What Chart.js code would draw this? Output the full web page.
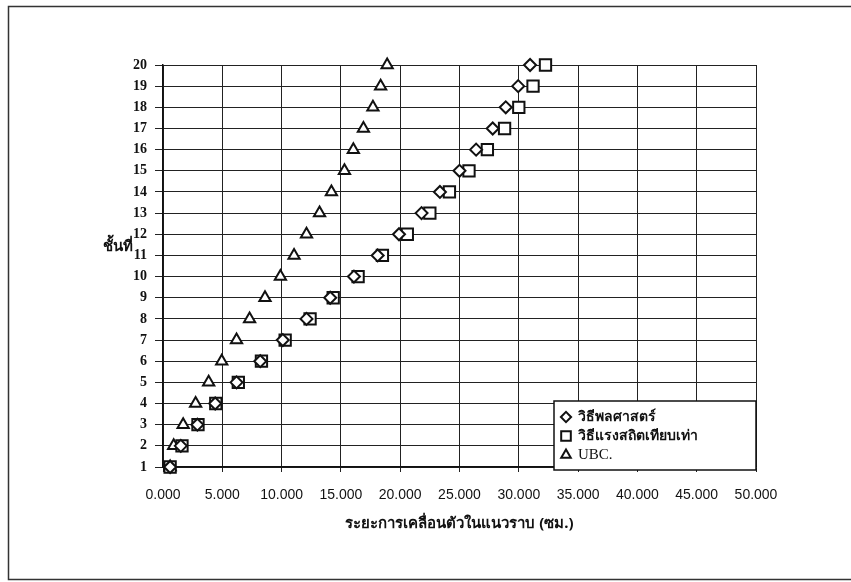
<!DOCTYPE html>
<html>
<head>
<meta charset="utf-8">
<script src="https://cdn.jsdelivr.net/npm/chart.js@4.4.1/dist/chart.umd.min.js"></script>
<style>
	html, body { margin: 0; padding: 0; background: #fff; }
	#wrap { position: relative; width: 851px; height: 582px; }
</style>
</head>
<body>
<div id="wrap"><canvas id="chart" width="851" height="582"></canvas></div>
<script>
'use strict';

// ชั้นที่ 1..20
const floors = [1, 2, 3, 4, 5, 6, 7, 8, 9, 10, 11, 12, 13, 14, 15, 16, 17, 18, 19, 20];

// ระยะการเคลื่อนตัว (ซม.)
const dynamicValues = [0.6, 1.5, 2.9, 4.4, 6.2, 8.2, 10.1, 12.1, 14.1, 16.1, 18.1, 19.9, 21.8, 23.35, 25.0, 26.4, 27.8, 28.9, 29.95, 30.95];
const staticValues = [0.6, 1.6, 2.95, 4.45, 6.35, 8.3, 10.3, 12.4, 14.35, 16.45, 18.5, 20.6, 22.5, 24.15, 25.8, 27.35, 28.8, 30.0, 31.2, 32.25];
const ubcValues = [0.6, 0.9, 1.7, 2.75, 3.85, 4.95, 6.2, 7.3, 8.6, 9.9, 11.05, 12.1, 13.2, 14.2, 15.3, 16.05, 16.9, 17.7, 18.35, 18.9];

const seriesLabels = ['วิธีพลศาสตร์', 'วิธีแรงสถิตเทียบเท่า', 'UBC.'];
const xTicks = [0, 5, 10, 15, 20, 25, 30, 35, 40, 45, 50];

const xTitle = 'ระยะการเคลื่อนตัวในแนวราบ (ซม.)';
const yTitle = 'ชั้นที่';

const thaiFont = "'Noto Sans', 'DejaVu Sans', sans-serif";
const numFont = "'Liberation Serif', 'DejaVu Serif', serif";
const xFont = "'Liberation Sans', Arial, sans-serif";

const toPoints = values => values.map((v, i) => ({ x: v, y: floors[i] }));

const markerStyle = (style, radius) => ({
	pointStyle: style,
	pointRadius: radius,
	pointHoverRadius: radius,
	pointBackgroundColor: '#fff',
	pointBorderColor: '#111',
	pointBorderWidth: 2,
	showLine: false,
	clip: false
});

// กรอบรอบภาพ, ชื่อแกน และคำอธิบายสัญลักษณ์
const decorPlugin = {
	id: 'decor',
	afterDraw(chart) {
		const ctx = chart.ctx;
		const area = chart.chartArea;
		ctx.save();

		ctx.strokeStyle = '#333';
		ctx.lineWidth = 1.5;
		ctx.beginPath();
		ctx.moveTo(851, 6.5);
		ctx.lineTo(8.5, 6.5);
		ctx.lineTo(8.5, 579.5);
		ctx.lineTo(851, 579.5);
		ctx.stroke();

		ctx.fillStyle = '#111';
		ctx.font = 'bold 15px ' + thaiFont;
		ctx.textAlign = 'center';
		ctx.textBaseline = 'middle';
		ctx.fillText(xTitle, (area.left + area.right) / 2, 524);

		ctx.textAlign = 'right';
		ctx.fillText(yTitle, 133, 247);

		// legend
		const box = { x: 554, y: 401, w: 202, h: 69 };
		ctx.fillStyle = '#fff';
		ctx.fillRect(box.x, box.y, box.w, box.h);
		ctx.strokeStyle = '#111';
		ctx.lineWidth = 1.5;
		ctx.strokeRect(box.x, box.y, box.w, box.h);

		chart.data.datasets.forEach((ds, i) => {
			const cy = 417 + i * 19;
			ctx.fillStyle = '#fff';
			ctx.strokeStyle = '#111';
			ctx.lineWidth = 2;
			Chart.helpers.drawPoint(ctx, {
				pointStyle: ds.pointStyle,
				radius: ds.pointRadius * 0.85,
				rotation: 0,
				borderWidth: 2
			}, 566, cy);
			ctx.fillStyle = '#111';
			ctx.font = (i === 2 ? '15px ' + numFont : 'bold 14px ' + thaiFont);
			ctx.textAlign = 'left';
			ctx.textBaseline = 'middle';
			ctx.fillText(ds.label, 578, cy);
		});

		ctx.restore();
	}
};

new Chart(document.getElementById('chart').getContext('2d'), {
	type: 'scatter',
	data: {
		datasets: [
			Object.assign({ label: seriesLabels[0], data: toPoints(dynamicValues) }, markerStyle('rectRot', 6)),
			Object.assign({ label: seriesLabels[1], data: toPoints(staticValues) }, markerStyle('rect', 8)),
			Object.assign({ label: seriesLabels[2], data: toPoints(ubcValues) }, markerStyle('triangle', 6.5))
		]
	},
	options: {
		responsive: false,
		animation: false,
		layout: { padding: { left: 0, right: 95, top: 65, bottom: 0 } },
		plugins: {
			legend: { display: false },
			tooltip: { enabled: false }
		},
		scales: {
			x: {
				type: 'linear',
				min: 0,
				max: 50,
				afterBuildTicks: axis => { axis.ticks = xTicks.map(v => ({ value: v })); },
				afterFit: axis => { axis.height = 115; },
				grid: { color: '#222', lineWidth: 1, tickLength: 5, drawTicks: true },
				border: { color: '#111', width: 1.5 },
				ticks: {
					padding: 15,
					color: '#111',
					font: { family: xFont, size: 14 },
					maxRotation: 0,
					callback: v => v.toFixed(3)
				}
			},
			y: {
				type: 'linear',
				min: 1,
				max: 20,
				afterBuildTicks: axis => { axis.ticks = floors.map(v => ({ value: v })); },
				afterFit: axis => { axis.width = 163; },
				grid: { color: '#222', lineWidth: 1, tickLength: 8, drawTicks: true },
				border: { color: '#111', width: 1.5 },
				ticks: {
					padding: 8,
					color: '#111',
					font: { family: numFont, size: 14, weight: 'bold' }
				}
			}
		}
	},
	plugins: [decorPlugin]
});
</script>
</body>
</html>
